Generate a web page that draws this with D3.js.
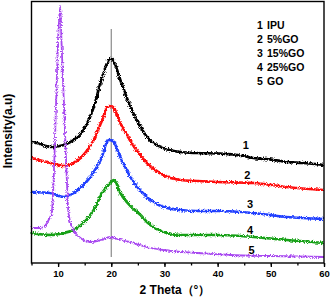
<!DOCTYPE html>
<html>
<head>
<meta charset="utf-8">
<script src="https://cdn.jsdelivr.net/npm/d3@7"></script>
<style>
body { margin: 0; background: #fff; }
text { font-family: Arial, "Liberation Sans", sans-serif; font-weight: bold; fill: #000; }
</style>
</head>
<body>
<div id="chart"></div>
<script>

// sample names and colours
var names = ["IPU", "5%GO", "15%GO", "25%GO", "GO"];
var colors = ["#000000", "#ff1010", "#2040ff", "#18a018", "#a848f0"];
var xTicks = [10, 20, 30, 40, 50, 60];

// 2 theta (deg) and intensity (a.u., stacked)
var ipuX = [5, 6, 8.6, 11.1, 12.9, 14.8, 16.7, 18.3, 19.8, 20.3, 21.7, 23.6, 25.5, 26.7, 29.8, 33, 36.1, 40, 43, 46.7, 50, 53, 56, 60];
var ipuY = [121, 120, 116, 118, 123, 133, 156, 186, 204, 203, 183, 156, 136, 126, 115, 111, 110, 109.5, 108.5, 105, 103.5, 101, 100, 98];

var go5X = [5, 8.6, 11.1, 12.9, 14.8, 16.7, 18.3, 19.5, 20.3, 21.7, 23.6, 26.7, 29.8, 33, 36.1, 40, 46.7, 53, 60];
var go5Y = [105, 100, 97, 100, 108, 123, 143, 157, 156, 140, 122, 100, 88, 83, 82, 81, 80, 76, 73];

var go15X = [5, 8.6, 11.1, 12.9, 14.8, 16.7, 18, 19.5, 20.3, 21.7, 23.6, 26.7, 29.8, 33, 36.1, 40, 46.7, 53, 60];
var go15Y = [71, 70, 66, 70, 78, 91, 103, 123, 122, 106, 86, 66, 56, 53, 52, 52, 50, 46, 44];

var go25X = [5, 8.6, 11.1, 12.9, 14.8, 16.7, 18.3, 19.8, 20.5, 21.7, 23.6, 25.5, 26.7, 29.8, 33, 40, 46.7, 53, 60];
var go25Y = [30, 28, 30, 33, 40, 53, 70, 80, 83, 70, 57, 48, 41, 31, 28, 28, 26, 23, 20];

var goX = [5, 6.5, 7.3, 8.4, 8.8, 9.2, 9.64, 10.0, 10.4, 10.63, 11.07, 11.57, 11.95, 12.64, 14.2, 16.1, 18, 19.8, 21.7, 23.6, 26.7, 29.8, 33, 36.1, 42.4, 50, 60];
var goY = [35, 35, 36, 45, 50, 88, 163, 223, 257, 223, 163, 93, 50, 36, 25, 21, 23, 26, 23, 21, 16, 13, 11, 10, 8, 7, 6];

// curve number tags, in data units
var tagX = [45.3, 45.6, 46.1, 46.1, 46.4];
var tagY = [118, 88, 59, 33, 12.5];

var series = [
    {x: ipuX, y: ipuY},
    {x: go5X, y: go5Y},
    {x: go15X, y: go15Y},
    {x: go25X, y: go25Y},
    {x: goX, y: goY}
];

var width = 331,
    height = 297;

var svg = d3.select("#chart").append("svg")
    .attr("width", width)
    .attr("height", height);

var x = d3.scaleLinear().domain([5, 60]).range([31.5, 324]);
var y = d3.scaleLinear().domain([0, 261]).range([263, 2]);

// jitter look of the raw scans
var defs = svg.append("defs");
var filt = defs.append("filter").attr("id", "noisy")
    .attr("x", "-5%").attr("y", "-20%").attr("width", "110%").attr("height", "140%");
filt.append("feTurbulence")
    .attr("type", "fractalNoise")
    .attr("baseFrequency", "1.6 0.8")
    .attr("numOctaves", 2)
    .attr("seed", 3)
    .attr("result", "turb");
filt.append("feDisplacementMap")
    .attr("in", "SourceGraphic")
    .attr("in2", "turb")
    .attr("scale", 4)
    .attr("xChannelSelector", "R")
    .attr("yChannelSelector", "G");

// reference line at 20 deg
svg.append("line")
    .attr("x1", x(20)).attr("x2", x(20))
    .attr("y1", 29).attr("y2", 257)
    .attr("stroke", "#8a8a8a")
    .attr("stroke-width", 1.2);

var line = d3.line()
    .x(function(d) { return x(d[0]); })
    .y(function(d) { return y(d[1]); })
    .curve(d3.curveMonotoneX);

series.forEach(function(s, i) {
    var pts = s.x.map(function(v, j) { return [v, s.y[j]]; });
    svg.append("path")
        .attr("d", line(pts))
        .attr("fill", "none")
        .attr("stroke", colors[i])
        .attr("stroke-width", i == 4 ? 1.8 : 2.7)
        .attr("stroke-linejoin", "round")
        .attr("filter", "url(#noisy)");
});

// tags 1..5 beside curves
svg.selectAll("text.tag")
    .data(tagX).enter().append("text")
    .attr("class", "tag")
    .attr("x", function(d) { return x(d); })
    .attr("y", function(d, i) { return y(tagY[i]); })
    .attr("dy", "0.36em")
    .attr("text-anchor", "middle")
    .attr("font-size", 11)
    .text(function(d, i) { return i + 1; });

// legend
var leg = svg.selectAll("g.leg")
    .data(names).enter().append("g")
    .attr("class", "leg")
    .attr("transform", function(d, i) { return "translate(257," + (25 + i * 14) + ")"; });
leg.append("text")
    .attr("dy", "0.36em")
    .attr("font-size", 10.5)
    .text(function(d, i) { return i + 1; });
leg.append("text")
    .attr("x", 10)
    .attr("dy", "0.36em")
    .attr("font-size", 10.5)
    .text(function(d) { return d; });

// frame
svg.append("rect")
    .attr("x", 31.5).attr("y", 1.5)
    .attr("width", 324 - 31.5).attr("height", 263 - 1.5)
    .attr("fill", "none")
    .attr("stroke", "#000")
    .attr("stroke-width", 1.4);

// bottom axis with minor ticks
svg.append("g")
    .attr("transform", "translate(0,263)")
    .call(d3.axisBottom(x).tickValues(d3.range(5, 61, 5)).tickSize(2.5).tickFormat(""))
    .call(function(g) { g.select(".domain").remove(); })
    .selectAll("line").attr("stroke-width", 1.3);

var xAxis = svg.append("g")
    .attr("transform", "translate(0,263)")
    .call(d3.axisBottom(x).tickValues(xTicks).tickSize(4).tickPadding(3))
    .call(function(g) { g.select(".domain").remove(); });
xAxis.selectAll("line").attr("stroke-width", 1.3);
xAxis.selectAll("text")
    .attr("font-size", 9.5)
    .attr("font-family", "Arial, 'Liberation Sans', sans-serif")
    .attr("font-weight", "bold");

// axis titles
svg.append("text")
    .attr("x", 175).attr("y", 293.5)
    .attr("text-anchor", "middle")
    .attr("font-size", 12)
    .text("2 Theta（°）");

svg.append("text")
    .attr("transform", "translate(12,131) rotate(-90)")
    .attr("text-anchor", "middle")
    .attr("font-size", 12)
    .text("Intensity(a.u)");

</script>
</body>
</html>
